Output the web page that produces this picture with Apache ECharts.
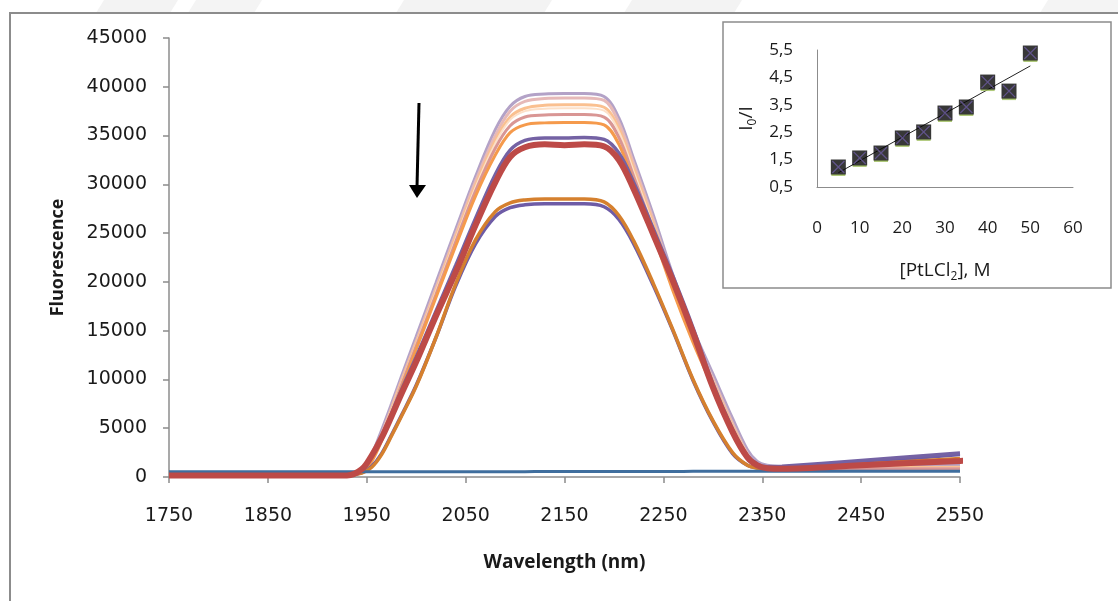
<!DOCTYPE html>
<html>
<head>
<meta charset="utf-8">
<script src="https://cdn.jsdelivr.net/npm/echarts@6/dist/echarts.min.js"></script>
<style>
html,body{margin:0;padding:0;background:#fff;}
#chart{width:1118px;height:601px;}
</style>
</head>
<body>
<div id="chart"></div>
<script>
// ---------- main spectrum data ----------
const wavelengths = [1750, 1900, 1930, 1945, 1955, 1965, 1975, 1985, 2000, 2020, 2040, 2060, 2080, 2095, 2110, 2130, 2150, 2170, 2190, 2205, 2220, 2240, 2260, 2280, 2300, 2320, 2335, 2345, 2355, 2370, 2450, 2550];
const redWavelengths = [1750, 1900, 1930, 1945, 1955, 1965, 1975, 1985, 2000, 2020, 2040, 2060, 2080, 2095, 2110, 2130, 2150, 2170, 2190, 2205, 2220, 2240, 2260, 2280, 2300, 2320, 2335, 2345, 2355, 2370, 2450, 2550, 2558];

const lavender = [250, 250, 300, 700, 2300, 4800, 7500, 10300, 14400, 19900, 25400, 30800, 35600, 38000, 39000, 39250, 39300, 39300, 39000, 36800, 32600, 26800, 20600, 15200, 10600, 6000, 2800, 1600, 1200, 1050, 1150, 1250];
const pink = [200, 200, 250, 600, 2000, 4400, 7100, 9900, 13900, 19400, 24900, 30300, 35000, 37500, 38500, 38800, 38850, 38850, 38600, 36300, 32100, 26300, 20100, 14700, 10100, 5500, 2400, 1200, 900, 800, 750, 700];
const lightOrange = [200, 200, 250, 550, 1900, 4200, 6900, 9700, 13700, 19100, 24600, 29900, 34500, 36900, 37800, 38100, 38150, 38150, 37900, 35700, 31600, 25900, 19800, 14400, 9800, 5200, 2300, 1200, 950, 900, 950, 1000];
const peach = [200, 200, 250, 500, 1800, 4100, 6800, 9600, 13600, 19000, 24400, 29700, 34200, 36600, 37500, 37750, 37800, 37800, 37550, 35400, 31300, 25600, 19500, 14200, 9600, 5000, 2200, 1150, 950, 900, 900, 900];
const rosy = [200, 200, 250, 500, 1700, 3900, 6600, 9400, 13400, 18700, 24100, 29300, 33700, 36000, 36900, 37100, 37150, 37150, 36900, 34800, 30800, 25200, 19200, 14000, 9400, 4900, 2100, 1100, 900, 850, 850, 850];
const orange = [200, 200, 250, 450, 1600, 3700, 6300, 9100, 13100, 18400, 23700, 28800, 33000, 35300, 36100, 36300, 36350, 36350, 36100, 34100, 30200, 24800, 19000, 13800, 9200, 4800, 2100, 1100, 900, 900, 1300, 1800];
const purple = [250, 250, 300, 800, 2200, 4200, 6500, 8900, 12300, 17000, 21700, 26500, 31000, 33500, 34500, 34750, 34750, 34800, 34600, 33200, 30200, 25400, 20500, 15300, 9600, 4900, 2200, 1300, 1050, 1100, 1700, 2450];
const lowOrange = [200, 200, 200, 400, 1000, 2300, 4200, 6200, 9300, 14300, 19800, 24300, 27200, 28100, 28400, 28500, 28500, 28500, 28200, 26800, 24200, 19800, 15000, 10000, 5800, 2500, 1200, 900, 850, 850, 1300, 1900];
const lowPurple = [250, 250, 250, 450, 1100, 2400, 4300, 6300, 9400, 14300, 19600, 23900, 26700, 27600, 27900, 28000, 28000, 28000, 27700, 26400, 23900, 19600, 14900, 9900, 5700, 2400, 1200, 950, 900, 950, 1500, 2300];
const blue = [550, 550, 550, 550, 550, 550, 550, 550, 550, 550, 550, 550, 550, 550, 550, 560, 560, 560, 560, 570, 570, 570, 570, 580, 580, 580, 580, 590, 590, 590, 600, 600];
const red = [150, 150, 150, 800, 2200, 4000, 6200, 8500, 11800, 16500, 21000, 25800, 30200, 32800, 33800, 34100, 34000, 34100, 33900, 32500, 29500, 24800, 20000, 14800, 9200, 4600, 2000, 1200, 900, 850, 1200, 1650, 1700];

const xMin = 1750, xMax = 2550, xStep = 100;
const yMax = 45000, yStep = 5000;

// ---------- inset data ----------
const concentration = [5, 10, 15, 20, 25, 30, 35, 40, 45, 50];
const ratioI0I = [1.23, 1.56, 1.74, 2.29, 2.51, 3.20, 3.42, 4.33, 4.00, 5.39];
const trendX = [5, 50];
const trendY = [1.02, 4.92];
const insetYMin = 0.5, insetYMax = 5.5;

// ---------- build ----------
function pairs(xs, ys) { return xs.map((x, i) => [x - xMin, ys[i]]); }
function insetPairs(xs, ys) { return xs.map((x, i) => [x, ys[i] - insetYMin]); }

const axisGray = '#8c8c8c';
const lineSeries = [
  ['lavender', lavender, '#b3a2c7', 3],
  ['pink', pink, '#e6b9b8', 3],
  ['lightOrange', lightOrange, '#fac090', 3],
  ['peach', peach, '#fde0c8', 2],
  ['rosy', rosy, '#d99694', 3],
  ['orange', orange, '#f59a4c', 3],
  ['lowPurple', lowPurple, '#6e5ca6', 3.5],
  ['lowOrange', lowOrange, '#d5802e', 3.5],
  ['purple', purple, '#7462a4', 3.5],
  ['blue', blue, '#3f6e9e', 3]
].map(([name, vals, color, w]) => ({
  name, type: 'line', xAxisIndex: 0, yAxisIndex: 0,
  data: pairs(wavelengths, vals), showSymbol: false, smooth: 0.35,
  lineStyle: { color, width: w }, itemStyle: { color }, z: 2
}));
lineSeries.push({
  name: 'red', type: 'line', xAxisIndex: 0, yAxisIndex: 0, clip: false,
  data: pairs(redWavelengths, red), showSymbol: false, smooth: 0.35,
  lineStyle: { color: '#bd4a47', width: 6 }, itemStyle: { color: '#bd4a47' }, z: 3
});

const xSymbol = 'path://M0,0.7 L0.7,0 L10,9.3 L9.3,10 Z M9.3,0 L10,0.7 L0.7,10 L0,9.3 Z';

const chart = echarts.init(document.getElementById('chart'), null, { renderer: 'canvas' });
chart.setOption({
  animation: false,
  backgroundColor: '#ffffff',
  grid: [
    { left: 169, right: 158, top: 38, bottom: 124 },
    { left: 817, right: 45, top: 50, bottom: 414 }
  ],
  xAxis: [
    {
      type: 'value', gridIndex: 0, min: 0, max: xMax - xMin, interval: xStep,
      axisLine: { lineStyle: { color: axisGray, width: 1.5 } },
      axisTick: { show: true, inside: false, length: 6, lineStyle: { color: axisGray, width: 1.5 } },
      axisLabel: { margin: 30, color: '#1a1a1a', fontFamily: 'DejaVu Sans', fontSize: 19, formatter: v => String(v + xMin) },
      splitLine: { show: false },
      name: 'Wavelength (nm)', nameLocation: 'middle', nameGap: 76,
      nameTextStyle: { color: '#1a1a1a', fontFamily: 'Open Sans', fontWeight: 'bold', fontSize: 19 }
    },
    {
      type: 'value', gridIndex: 1, min: 0, max: 60, interval: 10,
      axisLine: { lineStyle: { color: axisGray, width: 1 } },
      axisTick: { show: false },
      axisLabel: { margin: 33, color: '#1a1a1a', fontFamily: 'Open Sans', fontSize: 17 },
      splitLine: { show: false },
      name: '[PtLCl{s|2}], M', nameLocation: 'middle', nameGap: 72,
      nameTextStyle: {
        color: '#1a1a1a', fontFamily: 'Open Sans', fontSize: 19,
        rich: { s: { fontFamily: 'Open Sans', fontSize: 12, color: '#1a1a1a', padding: [12, 0, 0, 0] } }
      }
    }
  ],
  yAxis: [
    {
      type: 'value', gridIndex: 0, min: 0, max: yMax, interval: yStep,
      axisLine: { show: true, lineStyle: { color: axisGray, width: 1.5 } },
      axisTick: { show: true, inside: false, length: 6, lineStyle: { color: axisGray, width: 1.5 } },
      axisLabel: { margin: 22, color: '#1a1a1a', fontFamily: 'DejaVu Sans', fontSize: 19, formatter: v => String(v) },
      splitLine: { show: false },
      name: 'Fluorescence', nameLocation: 'middle', nameRotate: 90, nameGap: 102,
      nameTextStyle: { color: '#1a1a1a', fontFamily: 'Open Sans', fontWeight: 'bold', fontSize: 18 }
    },
    {
      type: 'value', gridIndex: 1, min: 0, max: insetYMax - insetYMin, interval: 1,
      axisLine: { show: true, lineStyle: { color: axisGray, width: 1 } },
      axisTick: { show: false },
      axisLabel: { margin: 24, color: '#1a1a1a', fontFamily: 'Open Sans', fontSize: 17,
        formatter: v => (v + insetYMin).toFixed(1).replace('.', ',') },
      splitLine: { show: false },
      name: 'I{s|0}/I', nameLocation: 'middle', nameRotate: 90, nameGap: 58,
      nameTextStyle: {
        color: '#1a1a1a', fontFamily: 'Open Sans', fontSize: 19,
        rich: { s: { fontFamily: 'Open Sans', fontSize: 12, color: '#1a1a1a', padding: [12, 0, 0, 0] } }
      }
    }
  ],
  series: lineSeries.concat([
    {
      name: 'trend', type: 'line', xAxisIndex: 1, yAxisIndex: 1,
      data: insetPairs(trendX, trendY), showSymbol: false,
      lineStyle: { color: '#222', width: 1 }, z: 4
    },
    {
      name: 'shadow', type: 'scatter', xAxisIndex: 1, yAxisIndex: 1,
      data: insetPairs(concentration, ratioI0I), symbol: 'rect', symbolSize: [14, 2], symbolOffset: [0, 8],
      itemStyle: { color: '#9bbb59' }, z: 5
    },
    {
      name: 'ratio', type: 'scatter', xAxisIndex: 1, yAxisIndex: 1,
      data: insetPairs(concentration, ratioI0I), symbol: 'rect', symbolSize: 15,
      itemStyle: { color: '#050505' }, z: 6
    },
    {
      name: 'ratioX', type: 'scatter', xAxisIndex: 1, yAxisIndex: 1,
      data: insetPairs(concentration, ratioI0I), symbol: xSymbol, symbolSize: 13,
      itemStyle: { color: '#6a5a9e' }, z: 7
    }
  ]),
  graphic: [
    // faint watermark shapes along the top edge
    { type: 'polygon', shape: { points: [[96, 13], [104, 0], [178, 0], [170, 13]] }, style: { fill: '#f3f3f3' }, silent: true },
    { type: 'polygon', shape: { points: [[188, 13], [196, 0], [262, 0], [254, 13]] }, style: { fill: '#f4f4f4' }, silent: true },
    { type: 'polygon', shape: { points: [[396, 13], [404, 0], [552, 0], [544, 13]] }, style: { fill: '#f3f3f3' }, silent: true },
    { type: 'polygon', shape: { points: [[624, 13], [632, 0], [742, 0], [734, 13]] }, style: { fill: '#f3f3f3' }, silent: true },
    { type: 'polygon', shape: { points: [[1040, 13], [1048, 0], [1118, 0], [1118, 13]] }, style: { fill: '#f4f4f4' }, silent: true },
    // outer frame
    { type: 'polyline', shape: { points: [[10, 601], [10, 13], [1118, 13]] }, style: { stroke: '#8c8c8c', lineWidth: 2, fill: null }, silent: true },
    // inset frame
    { type: 'rect', shape: { x: 723, y: 22, width: 388, height: 266 }, style: { stroke: '#8c8c8c', lineWidth: 1.5, fill: null }, silent: true },
    // arrow
    { type: 'line', shape: { x1: 419, y1: 103, x2: 417, y2: 187 }, style: { stroke: '#000', lineWidth: 3 }, silent: true },
    { type: 'polygon', shape: { points: [[409, 185], [426, 185], [417, 198]] }, style: { fill: '#000' }, silent: true }
  ]
});
</script>
</body>
</html>
